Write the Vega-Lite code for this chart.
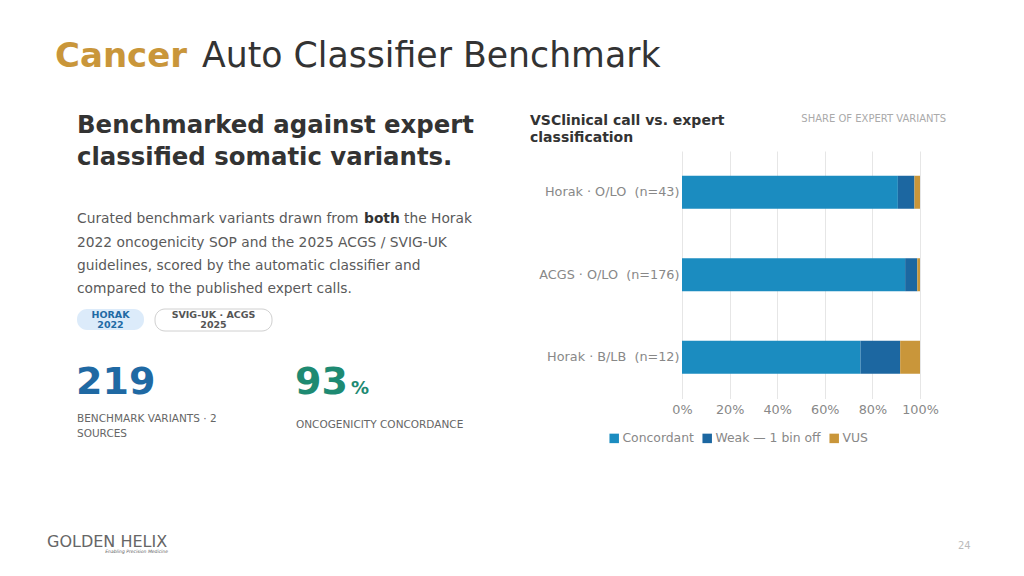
{
  "$schema": "https://vega.github.io/schema/vega-lite/v6.json",
  "autosize": "none",
  "width": 238,
  "height": 247.5,
  "padding": {"left": 682, "top": 151, "right": 104, "bottom": 177.5},
  "background": "#ffffff",
  "config": {
    "font": "DejaVu Sans",
    "view": {"stroke": null},
    "axis": {"labelFont": "DejaVu Sans"},
    "legend": {"labelFont": "DejaVu Sans"}
  },
  "layer": [
    {
      "data": {
        "values": [
          {"source": "Horak · O/LO  (n=43)", "category": "Concordant", "count": 39, "rank": 1},
          {"source": "Horak · O/LO  (n=43)", "category": "Weak — 1 bin off", "count": 3, "rank": 2},
          {"source": "Horak · O/LO  (n=43)", "category": "VUS", "count": 1, "rank": 3},
          {"source": "ACGS · O/LO  (n=176)", "category": "Concordant", "count": 165, "rank": 1},
          {"source": "ACGS · O/LO  (n=176)", "category": "Weak — 1 bin off", "count": 9, "rank": 2},
          {"source": "ACGS · O/LO  (n=176)", "category": "VUS", "count": 2, "rank": 3},
          {"source": "Horak · B/LB  (n=12)", "category": "Concordant", "count": 9, "rank": 1},
          {"source": "Horak · B/LB  (n=12)", "category": "Weak — 1 bin off", "count": 2, "rank": 2},
          {"source": "Horak · B/LB  (n=12)", "category": "VUS", "count": 1, "rank": 3}
        ]
      },
      "mark": {"type": "bar"},
      "encoding": {
        "y": {
          "field": "source", "type": "nominal", "sort": null,
          "scale": {"paddingInner": 0.6, "paddingOuter": 0.3},
          "axis": {"title": null, "ticks": false, "domain": false, "labelFontSize": 12.8, "labelColor": "#888888", "labelPadding": 3, "grid": false, "labelExpr": "replace(datum.label, '  ', '\u00a0 ')"}
        },
        "x": {
          "field": "count", "type": "quantitative", "stack": "normalize",
          "scale": {"domain": [0, 1], "nice": false},
          "axis": {"title": null, "values": [0, 0.2, 0.4, 0.6, 0.8, 1], "format": ".0%", "ticks": false, "domain": false, "labelFontSize": 12.8, "labelColor": "#888888", "labelPadding": 5, "labelOverlap": false, "labelFlush": false, "gridColor": "#e6e6e6", "grid": true}
        },
        "color": {
          "field": "category", "type": "nominal",
          "scale": {"domain": ["Concordant", "Weak — 1 bin off", "VUS"], "range": ["#1B8CC0", "#1C67A1", "#C9963A"]},
          "legend": {"title": null, "orient": "none", "legendX": -74, "legendY": 281, "direction": "horizontal", "symbolType": "square", "symbolSize": 90, "symbolStrokeWidth": 0, "labelFontSize": 12.4, "labelColor": "#888888", "labelOffset": 2, "columnPadding": 7}
        },
        "order": {"field": "rank", "type": "quantitative"}
      }
    },
    {
      "data": {"values": [{"t": "Cancer"}]},
      "mark": {"type": "text", "x": -627, "y": -84, "align": "left", "baseline": "alphabetic", "fontSize": 34, "fontWeight": "bold", "color": "#C9963A"},
      "encoding": {"text": {"field": "t"}}
    },
    {
      "data": {"values": [{"t": "Auto Classifier Benchmark"}]},
      "mark": {"type": "text", "x": -480, "y": -84, "align": "left", "baseline": "alphabetic", "fontSize": 34.7, "color": "#333333"},
      "encoding": {"text": {"field": "t"}}
    },
    {
      "data": {"values": [{"t": "Benchmarked against expert\nclassified somatic variants."}]},
      "mark": {"type": "text", "x": -605, "y": -18, "align": "left", "baseline": "alphabetic", "fontSize": 24.4, "fontWeight": "bold", "color": "#333333", "lineBreak": "\n", "lineHeight": 32},
      "encoding": {"text": {"field": "t"}}
    },
    {
      "data": {"values": [{"t": "Curated benchmark variants drawn from"}]},
      "mark": {"type": "text", "x": -605, "y": 72, "align": "left", "baseline": "alphabetic", "fontSize": 13.8, "color": "#5a5a5a"},
      "encoding": {"text": {"field": "t"}}
    },
    {
      "data": {"values": [{"t": "both"}]},
      "mark": {"type": "text", "x": -318, "y": 72, "align": "left", "baseline": "alphabetic", "fontSize": 13.8, "fontWeight": "bold", "color": "#333333"},
      "encoding": {"text": {"field": "t"}}
    },
    {
      "data": {"values": [{"t": "the Horak"}]},
      "mark": {"type": "text", "x": -278, "y": 72, "align": "left", "baseline": "alphabetic", "fontSize": 13.8, "color": "#5a5a5a"},
      "encoding": {"text": {"field": "t"}}
    },
    {
      "data": {"values": [{"t": "2022 oncogenicity SOP and the 2025 ACGS / SVIG-UK\nguidelines, scored by the automatic classifier and\ncompared to the published expert calls."}]},
      "mark": {"type": "text", "x": -605, "y": 95.5, "align": "left", "baseline": "alphabetic", "fontSize": 13.8, "color": "#5a5a5a", "lineBreak": "\n", "lineHeight": 23.3},
      "encoding": {"text": {"field": "t"}}
    },
    {
      "data": {"values": [{}]},
      "mark": {"type": "rect", "x": -605, "x2": -538, "y": 158, "y2": 179, "cornerRadius": 10, "fill": "#DCEBFA"},
      "encoding": {}
    },
    {
      "data": {"values": [{}]},
      "mark": {"type": "rect", "x": -527, "x2": -410, "y": 158, "y2": 180, "cornerRadius": 10, "fill": "#ffffff", "stroke": "#d0d0d0", "strokeWidth": 1},
      "encoding": {}
    },
    {
      "data": {"values": [{"t": "HORAK\n2022"}]},
      "mark": {"type": "text", "x": -571.5, "y": 166.5, "align": "center", "baseline": "alphabetic", "fontSize": 9.5, "fontWeight": "bold", "color": "#1F6AA5", "lineBreak": "\n", "lineHeight": 10.5},
      "encoding": {"text": {"field": "t"}}
    },
    {
      "data": {"values": [{"t": "SVIG-UK · ACGS\n2025"}]},
      "mark": {"type": "text", "x": -468.5, "y": 166.5, "align": "center", "baseline": "alphabetic", "fontSize": 9.5, "fontWeight": "bold", "color": "#555555", "lineBreak": "\n", "lineHeight": 10.5},
      "encoding": {"text": {"field": "t"}}
    },
    {
      "data": {"values": [{}]},
      "mark": {"type": "rule", "x": -605, "x2": -410, "y": 197, "color": "#4DB0EE", "strokeWidth": 2},
      "encoding": {}
    },
    {
      "data": {"values": [{}]},
      "mark": {"type": "rule", "x": -386, "x2": -191, "y": 197, "color": "#2A9A80", "strokeWidth": 1.5},
      "encoding": {}
    },
    {
      "data": {"values": [{"t": "219"}]},
      "mark": {"type": "text", "x": -606, "y": 243, "align": "left", "baseline": "alphabetic", "fontSize": 38, "fontWeight": "bold", "color": "#1F69A3"},
      "encoding": {"text": {"field": "t"}}
    },
    {
      "data": {"values": [{"t": "93"}]},
      "mark": {"type": "text", "x": -387, "y": 243, "align": "left", "baseline": "alphabetic", "fontSize": 38, "fontWeight": "bold", "color": "#1E8A72"},
      "encoding": {"text": {"field": "t"}}
    },
    {
      "data": {"values": [{"t": "%"}]},
      "mark": {"type": "text", "x": -331, "y": 243, "align": "left", "baseline": "alphabetic", "fontSize": 18, "fontWeight": "bold", "color": "#1E8A72"},
      "encoding": {"text": {"field": "t"}}
    },
    {
      "data": {"values": [{"t": "BENCHMARK VARIANTS · 2\nSOURCES"}]},
      "mark": {"type": "text", "x": -605, "y": 271, "align": "left", "baseline": "alphabetic", "fontSize": 10.5, "color": "#666666", "lineBreak": "\n", "lineHeight": 15},
      "encoding": {"text": {"field": "t"}}
    },
    {
      "data": {"values": [{"t": "ONCOGENICITY CONCORDANCE"}]},
      "mark": {"type": "text", "x": -386, "y": 277, "align": "left", "baseline": "alphabetic", "fontSize": 10.5, "color": "#666666"},
      "encoding": {"text": {"field": "t"}}
    },
    {
      "data": {"values": [{}]},
      "mark": {"type": "rule", "x": -152, "x2": 264, "y": -49, "color": "#444444", "strokeWidth": 1.5},
      "encoding": {}
    },
    {
      "data": {"values": [{"t": "VSClinical call vs. expert\nclassification"}]},
      "mark": {"type": "text", "x": -152, "y": -26, "align": "left", "baseline": "alphabetic", "fontSize": 14, "fontWeight": "bold", "color": "#333333", "lineBreak": "\n", "lineHeight": 17},
      "encoding": {"text": {"field": "t"}}
    },
    {
      "data": {"values": [{"t": "SHARE OF EXPERT VARIANTS"}]},
      "mark": {"type": "text", "x": 264, "y": -29, "align": "right", "baseline": "alphabetic", "fontSize": 10, "color": "#aaaaaa"},
      "encoding": {"text": {"field": "t"}}
    },
    {
      "data": {"values": [{"t": "GOLDEN HELIX"}]},
      "mark": {"type": "text", "x": -635, "y": 396, "align": "left", "baseline": "alphabetic", "fontSize": 16, "color": "#666666"},
      "encoding": {"text": {"field": "t"}}
    },
    {
      "data": {"values": [{"t": "Enabling Precision Medicine"}]},
      "mark": {"type": "text", "x": -514, "y": 402, "align": "right", "baseline": "alphabetic", "fontSize": 4.5, "fontStyle": "italic", "color": "#666666"},
      "encoding": {"text": {"field": "t"}}
    },
    {
      "data": {"values": [{}]},
      "mark": {"type": "rule", "x": -635, "x2": -572, "y": 398.5, "color": "#B8A88A", "strokeWidth": 1.5},
      "encoding": {}
    },
    {
      "data": {"values": [{}]},
      "mark": {"type": "rule", "x": -502, "x2": 264, "y": 394, "color": "#dddddd", "strokeWidth": 1},
      "encoding": {}
    },
    {
      "data": {"values": [{"t": "24"}]},
      "mark": {"type": "text", "x": 276, "y": 398, "align": "left", "baseline": "alphabetic", "fontSize": 10, "color": "#bbbbbb"},
      "encoding": {"text": {"field": "t"}}
    }
  ]
}
